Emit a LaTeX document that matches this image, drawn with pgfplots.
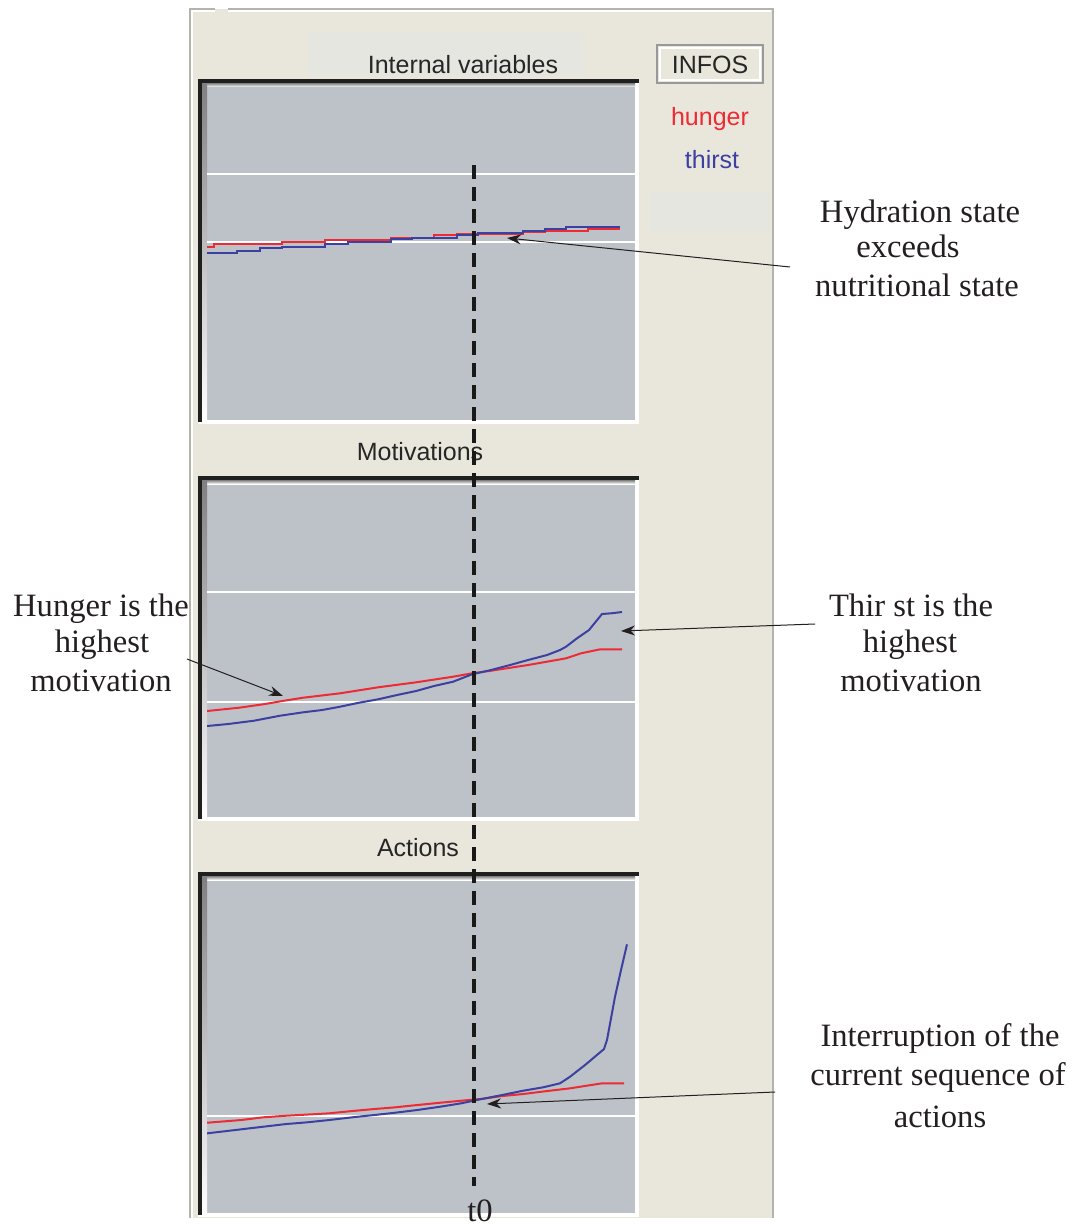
\documentclass[border=0pt]{standalone}
\usepackage{pgfplots}
\pgfplotsset{compat=1.18}
\usepackage{fontspec}
\setmainfont{Liberation Serif}
\newfontfamily\gui{Liberation Sans}
\usetikzlibrary{arrows.meta}
\definecolor{panelbg}{HTML}{E9E7DC}
\definecolor{plotbg}{HTML}{BDC1C8}
\definecolor{hred}{HTML}{EE2A35}
\definecolor{tblue}{HTML}{3C40A0}
\definecolor{boxbg}{HTML}{E6E6E1}
\definecolor{edge}{HTML}{B4B4AC}
\definecolor{shade}{HTML}{6E7177}
\definecolor{ink}{HTML}{231F20}

\pgfplotsset{panel/.style={anchor=south west, width=214pt, height=166.5pt,
  scale only axis, xmin=207, xmax=635, xtick=\empty, ymajorgrids,
  yticklabels={}, major tick length=0pt, axis line style={draw=none},
  grid style={white, line width=0.9pt},
  every axis plot/.append style={line width=1pt}}}

\newcommand\guiframe[2]{%
  \fill[white] ({198},{-#1}) rectangle ({639},{-(#2+4)});
  \fill[plotbg] ({202},{-(#1+4)}) rectangle ({635},{-#2});
  \fill[shade] ({202},{-(#1+4)}) rectangle ({635},{-(#1+8)});
  \fill[shade] ({202},{-(#1+4)}) rectangle ({207},{-#2});
  \fill[black!88] ({198},{-#1}) rectangle ({639},{-(#1+4)});
  \fill[black!88] ({198},{-#1}) rectangle ({202},{-(#2+2)});
}

\begin{document}
\begin{tikzpicture}[x=0.5pt,y=0.5pt]
\path[use as bounding box] (0,0) rectangle (1074,-1225);
% panel
\fill[panelbg] (190,-9) rectangle (773,-1218);
\draw[edge, line width=1pt] (190,-1218) -- (190,-9) -- (215,-9);
\draw[edge, line width=1pt] (228,-9) -- (773,-9) -- (773,-1218);
\draw[white, line width=1pt] (192,-1218) -- (192,-11) -- (215,-11);
\draw[white, line width=1pt] (228,-11) -- (771,-11);
% title box and info widgets
\fill[boxbg] (308,-33) rectangle (583,-76);
\fill[boxbg] (650,-192) rectangle (770,-231);
\draw[gray!80, line width=1pt] (657,-45) rectangle (763,-83);
\draw[white, line width=0.7pt] (660,-48) rectangle (760,-80);
\node[anchor=base, font=\gui\fontsize{12.5}{14}\selectfont, text=black!85] at (710,-74) {INFOS};
\node[anchor=base, font=\gui\fontsize{12.5}{14}\selectfont, text=hred] at (710,-126) {hunger};
\node[anchor=base, font=\gui\fontsize{12.5}{14}\selectfont, text=tblue] at (712,-169) {thirst};
% section titles
\node[anchor=base, font=\gui\fontsize{12.5}{14}\selectfont, text=black!85] at (463,-74) {Internal variables};
\node[anchor=base, font=\gui\fontsize{12.5}{14}\selectfont, text=black!85] at (420,-460) {Motivations};
\node[anchor=base, font=\gui\fontsize{12.5}{14}\selectfont, text=black!85] at (418,-856) {Actions};
% frames
\guiframe{79}{420}
\guiframe{476}{817}
\guiframe{872}{1213}

% ---- Internal variables
\begin{axis}[panel, at={(207,-420)}, ymin=-420, ymax=-87, ytick={-174,-242}]
\addplot[hred, const plot] coordinates {(207,-246.7)(214,-244.3)(282,-242.3)(325,-240)(348,-239.5)(391,-237.7)(434,-235.3)(457,-234)(523,-232.3)(545,-230.7)(588,-228.7)(620,-228.7)};
\addplot[tblue, const plot] coordinates {(207,-253.3)(237,-250.7)(260,-248.3)(282,-246.7)(325,-244.3)(348,-242)(391,-239)(412,-237.7)(457,-235.3)(478,-233.3)(523,-231)(545,-229)(566,-227)(620,-227)};
\end{axis}

% ---- Motivations
\begin{axis}[panel, at={(207,-817)}, ymin=-817, ymax=-484, ytick={-592,-702}]
\addplot[hred] coordinates {(207,-711)(239,-707.7)(265,-704)(284,-700.7)(303,-697.7)(340,-693.3)(378,-687.3)(416,-682.3)(453,-676.7)(472,-673.3)(491,-670.7)(528,-665)(566,-658.3)(581,-653.3)(600,-649.3)(622,-649.3)};
\addplot[tblue] coordinates {(207,-726)(228,-724)(254,-720.7)(280,-715.7)(303,-712.3)(322,-710)(340,-706.7)(359,-702.7)(378,-699.3)(397,-695)(416,-691)(434,-686)(453,-681.7)(472,-674.3)(491,-670)(510,-665)(528,-660)(547,-655)(560,-650)(566,-646.7)(577,-638.3)(589,-630)(602,-614)(611,-613.3)(622,-612)};
\end{axis}

% ---- Actions
\begin{axis}[panel, at={(207,-1213)}, ymin=-1213, ymax=-880, ytick={-1116}]
\addplot[hred] coordinates {(207,-1122.7)(241,-1120)(263,-1117.3)(286,-1115.7)(329,-1113.3)(352,-1111)(374,-1109)(395,-1107.3)(417,-1105)(440,-1102.7)(461,-1100.7)(483,-1098.7)(502,-1096)(523,-1094)(547,-1091)(570,-1088.3)(589,-1085.3)(602,-1083.3)(624,-1083.3)};
\addplot[tblue] coordinates {(207,-1133.3)(241,-1129.3)(263,-1126.7)(286,-1124)(307,-1122.3)(329,-1120)(352,-1117.3)(374,-1115)(395,-1112.7)(417,-1110)(440,-1106.7)(461,-1103.3)(483,-1098.7)(502,-1095)(523,-1090.7)(543,-1087.3)(560,-1083.3)(570,-1076.7)(585,-1065)(604,-1049)(607,-1040)(615,-996.7)(621,-970)(627,-944.3)};
\end{axis}

% t0 marker
\draw[black!90, line width=2pt, dash pattern=on 7pt off 4pt] (474,-165) -- (474,-1186);
\node[anchor=base, font=\fontsize{16.3}{19}\selectfont, text=ink, inner sep=0pt] at (480,-1221) {t0};

% annotations
\tikzset{ann/.style={anchor=base, font=\fontsize{16.3}{19}\selectfont, text=ink, inner sep=0pt},
         arr/.style={ink, line width=0.5pt, -{Stealth[length=7pt,width=5pt]}}}
\node[ann] at (920,-222) {Hydration state};
\node[ann] at (908,-257) {exceeds};
\node[ann] at (917,-296) {nutritional state};
\draw[arr] (790,-267) -- (507,-238);

\node[ann] at (101,-616) {Hunger is the};
\node[ann] at (102,-652) {highest};
\node[ann] at (101,-691) {motivation};
\draw[arr] (187,-659) -- (283,-696);

\node[ann] at (911,-616) {Thir st is the};
\node[ann] at (910,-652) {highest};
\node[ann] at (911,-691) {motivation};
\draw[arr] (815,-624) -- (621,-631);

\node[ann] at (940,-1046) {Interruption of the};
\node[ann] at (938,-1085) {current sequence of};
\node[ann] at (940,-1127) {actions};
\draw[arr] (775,-1092) -- (487,-1104);
\end{tikzpicture}
\end{document}
